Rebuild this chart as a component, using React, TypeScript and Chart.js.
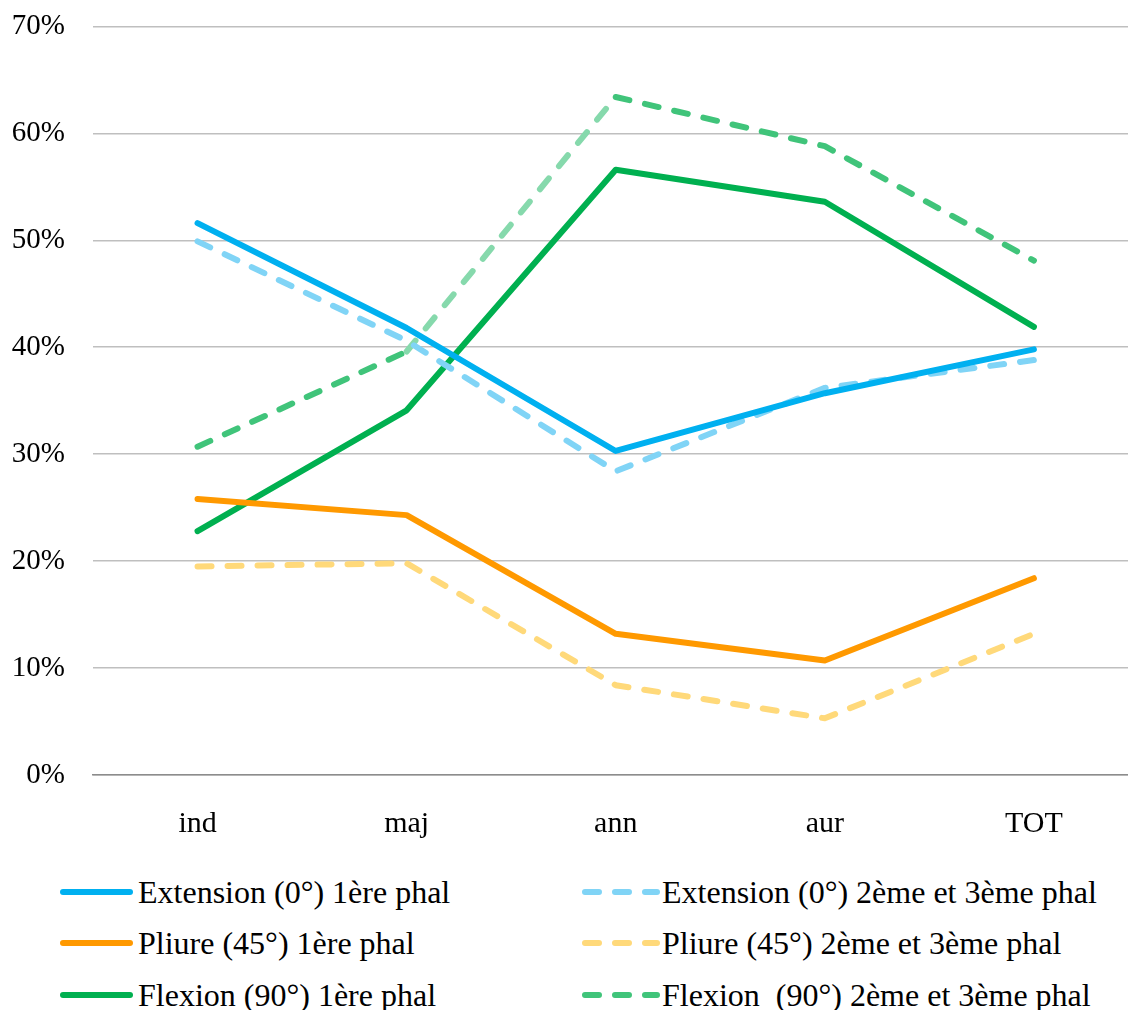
import React, { useEffect, useRef } from "react";
import { Chart, registerables } from "chart.js";

Chart.register(...registerables);

const categories = ["ind", "maj", "ann", "aur", "TOT"];
const yTickValues = [0, 10, 20, 30, 40, 50, 60, 70];

const extension1 = [51.6, 41.8, 30.3, 35.7, 39.8];
const extension23 = [49.9, 40.6, 28.4, 36.2, 38.8];
const pliure1 = [25.8, 24.3, 13.2, 10.7, 18.4];
const pliure23 = [19.5, 19.8, 8.4, 5.3, 13.2];
const flexion1 = [22.8, 34.1, 56.6, 53.6, 41.9];
const flexion23 = [30.7, 39.6, 63.4, 58.8, 48.1];

const labels = [
  "Extension (0°) 1ère phal",
  "Extension (0°) 2ème et 3ème phal",
  "Pliure (45°) 1ère phal",
  "Pliure (45°) 2ème et 3ème phal",
  "Flexion (90°) 1ère phal",
  "Flexion  (90°) 2ème et 3ème phal",
];
const colors = ["#00B0F0", "#80D4F6", "#FF9900", "#FFD97A", "#00B050", "#40C47A"];
const dashed = [false, true, false, true, false, true];
const seriesList = [extension1, extension23, pliure1, pliure23, flexion1, flexion23];

const FONT = '"Liberation Serif", "Times New Roman", serif';

export default function App() {
  const ref = useRef<HTMLCanvasElement | null>(null);

  useEffect(() => {
    if (!ref.current) return;
    const datasets = seriesList.map((s, k) => ({
      label: labels[k],
      data: s.map((v, i) => ({ x: i, y: v })),
      borderColor: colors[k],
      backgroundColor: colors[k],
      borderWidth: 6,
      borderDash: dashed[k] ? [14, 16] : [],
      borderCapStyle: "round",
      borderJoinStyle: "round",
      pointRadius: 0,
      tension: 0,
      fill: false,
      segment:
        k === 5
          ? { borderColor: (c: any) => (c.p0DataIndex === 1 ? "#86D9AC" : undefined) }
          : undefined,
    }));
    const chart = new Chart(ref.current, {
      type: "line",
      data: { datasets: datasets as any },
      options: {
        animation: false,
        responsive: false,
        devicePixelRatio: 1,
        layout: { padding: { top: 0, right: 0, left: 0, bottom: 0 } },
        plugins: { legend: { display: false }, tooltip: { enabled: false } },
        scales: {
          x: {
            type: "linear",
            min: -0.5,
            max: 4.45,
            afterBuildTicks: (s: any) => {
              s.ticks = categories.map((_, i) => ({ value: i }));
            },
            afterFit: (s: any) => {
              s.height = 85;
            },
            grid: { display: false, drawTicks: false },
            border: { display: true, color: "#8c8c8c", width: 1.5 },
            ticks: {
              padding: 31,
              color: "#000",
              font: { family: FONT, size: 30 },
              callback: (v: any) => categories[v] ?? "",
              maxRotation: 0,
              autoSkip: false,
            },
          },
          y: {
            min: 0,
            max: 70,
            afterBuildTicks: (s: any) => {
              s.ticks = yTickValues.map((v) => ({ value: v }));
            },
            afterFit: (s: any) => {
              s.width = 93;
            },
            grid: { color: "#bfbfbf", lineWidth: 1.5, drawTicks: false },
            border: { display: false },
            ticks: {
              padding: 28,
              color: "#000",
              font: { family: FONT, size: 29 },
              callback: (v: any) => v + "%",
            },
          },
        },
      },
    });
    return () => chart.destroy();
  }, []);

  const rowY = [892, 943, 995];
  return (
    <div
      style={{
        position: "absolute",
        left: 0,
        top: 0,
        width: 1128,
        height: 1010,
        background: "#fff",
        overflow: "hidden",
      }}
    >
      <canvas ref={ref} width={1128} height={879} style={{ position: "absolute", left: 0, top: -19, width: 1128, height: 879 }} />
      {labels.map((lab, k) => {
        const col = k % 2;
        const row = Math.floor(k / 2);
        const lineX = col === 0 ? 60 : 582;
        const lineW = col === 0 ? 73 : 78;
        const textX = col === 0 ? 138 : 662;
        const cy = rowY[row];
        return (
          <React.Fragment key={k}>
            <svg
              style={{ position: "absolute", left: lineX - 4, top: cy - 6, overflow: "visible" }}
              width={lineW + 8}
              height={12}
            >
              <line
                x1={4 + 3}
                y1={6}
                x2={4 + lineW - 3}
                y2={6}
                stroke={colors[k]}
                strokeWidth={6}
                strokeLinecap="round"
                strokeDasharray={dashed[k] ? "14 16" : undefined}
              />
            </svg>
            <div
              style={{
                position: "absolute",
                left: textX,
                top: cy - 20,
                height: 40,
                lineHeight: "40px",
                fontFamily: FONT,
                fontSize: 32,
                color: "#000",
                whiteSpace: "pre",
              }}
            >
              {lab}
            </div>
          </React.Fragment>
        );
      })}
    </div>
  );
}
